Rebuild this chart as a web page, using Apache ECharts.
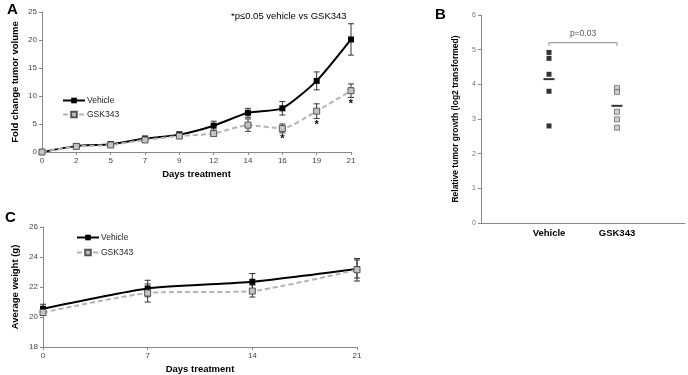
<!DOCTYPE html>
<html>
<head>
<meta charset="UTF-8">
<title></title>
<style>
  html, body { margin: 0; padding: 0; background: #fff; }
  #main { width: 688px; height: 375px; }
</style>
</head>
<body>
<div id="main"></div>
<script src="https://cdn.jsdelivr.net/npm/echarts@6/dist/echarts.min.js"></script>
<script>
// panel A - tumor volume
var daysA = ['0', '2', '5', '7', '9', '12', '14', '16', '19', '21'];
var vehicleA = [0, 1.05, 1.4, 2.4, 3.1, 4.7, 7.0, 7.8, 12.7, 20.1];
var vehicleAErr = [0, 0.2, 0.3, 0.4, 0.5, 0.8, 0.8, 1.2, 1.6, 2.8];
var gskA = [0, 1.0, 1.25, 2.15, 2.85, 3.3, 4.8, 4.2, 7.3, 10.95];
var gskAErr = [0, 0.2, 0.3, 0.3, 0.4, 0.5, 1.1, 0.8, 1.3, 1.2];
var sigDaysA = ['16', '19', '21'];

// panel B - relative growth
var groupsB = ['', 'Vehicle', 'GSK343', ''];
var vehicleB = [4.92, 4.75, 4.29, 3.80, 2.80];
var gskB = [3.89, 3.78, 3.21, 2.99, 2.75];
var meansB = [4.15, 3.38];
var bracketB = 5.2;
var pTextB = 'p=0.03';

// panel C - body weight
var daysC = ['0', '7', '14', '21'];
var vehicleC = [20.55, 21.9, 22.35, 23.2];
var vehicleCErr = [0.3, 0.55, 0.55, 0.6];
var gskC = [20.3, 21.6, 21.73, 23.15];
var gskCErr = [0.2, 0.6, 0.4, 0.75];

var FONT = 'Liberation Sans';
var AXIS_GREY = '#888';

function errData(vals, errs, cats, sig) {
  return vals.map(function (v, i) {
    var s = sig && sig.indexOf(cats[i]) >= 0 ? 1 : 0;
    return [i, v, errs[i], s];
  });
}

function errRender(params, api) {
  var x = api.value(0), v = api.value(1), e = api.value(2), s = api.value(3);
  var top = api.coord([x, v + e]);
  var bot = api.coord([x, v - e]);
  var hw = 3;
  var st = { stroke: '#333', lineWidth: 1 };
  var kids = [];
  if (e > 0) {
    kids.push({ type: 'line', shape: { x1: top[0], y1: top[1], x2: bot[0], y2: bot[1] }, style: st });
    kids.push({ type: 'line', shape: { x1: top[0] - hw, y1: top[1], x2: top[0] + hw, y2: top[1] }, style: st });
    kids.push({ type: 'line', shape: { x1: bot[0] - hw, y1: bot[1], x2: bot[0] + hw, y2: bot[1] }, style: st });
  }
  if (s) {
    kids.push({ type: 'text', style: { x: bot[0], y: bot[1] + 1, text: '*', fill: '#000',
      font: 'bold 11px ' + FONT, textAlign: 'center', textVerticalAlign: 'top' } });
  }
  return { type: 'group', children: kids };
}

function bracketRender(params, api) {
  var a = api.coord([api.value(0), api.value(2)]);
  var b = api.coord([api.value(1), api.value(2)]);
  var st = { stroke: '#888', lineWidth: 1 };
  return { type: 'group', children: [
    { type: 'line', shape: { x1: a[0], y1: a[1], x2: b[0], y2: b[1] }, style: st },
    { type: 'line', shape: { x1: a[0], y1: a[1], x2: a[0], y2: a[1] + 3 }, style: st },
    { type: 'line', shape: { x1: b[0], y1: b[1], x2: b[0], y2: b[1] + 3 }, style: st },
    { type: 'text', style: { x: (a[0] + b[0]) / 2, y: a[1] - 5, text: pTextB, fill: '#555',
      font: '8.5px ' + FONT, textAlign: 'center', textVerticalAlign: 'bottom' } }
  ] };
}

function valAxis(idx, min, max, step, name, gap, nameSize, labelSize, labelColor) {
  return {
    type: 'value', gridIndex: idx, min: min, max: max, interval: step,
    name: name, nameLocation: 'middle', nameGap: gap,
    nameTextStyle: { fontFamily: FONT, fontWeight: 'bold', fontSize: nameSize, color: '#000' },
    axisLine: { show: true, lineStyle: { color: AXIS_GREY, width: 1 } },
    axisTick: { show: true, length: 3, lineStyle: { color: AXIS_GREY } },
    axisLabel: { fontFamily: FONT, fontSize: labelSize, color: labelColor, margin: 5 },
    splitLine: { show: false }
  };
}

function catAxis(idx, cats, name, gap) {
  return {
    type: 'category', gridIndex: idx, data: cats, boundaryGap: false,
    name: name, nameLocation: 'middle', nameGap: gap,
    nameTextStyle: { fontFamily: FONT, fontWeight: 'bold', fontSize: 9.5, color: '#000' },
    axisLine: { lineStyle: { color: AXIS_GREY, width: 1 } },
    axisTick: { show: true, length: 3, alignWithLabel: true, lineStyle: { color: AXIS_GREY } },
    axisLabel: { fontFamily: FONT, fontSize: 8, color: '#444', margin: 5 },
    splitLine: { show: false }
  };
}

var vehStyle = {
  symbol: 'rect', symbolSize: 6, smooth: 0.2,
  itemStyle: { color: '#000' },
  lineStyle: { color: '#000', width: 2 }
};
var gskStyle = {
  symbol: 'rect', symbolSize: 6, smooth: 0.2,
  itemStyle: { color: '#c4c4c4', borderColor: '#555', borderWidth: 1 },
  lineStyle: { color: '#b4b4b4', width: 2, type: [5, 3] }
};

function lineSeries(name, idx, vals, style, z) {
  return Object.assign({
    name: name, type: 'line', xAxisIndex: idx, yAxisIndex: idx, data: vals,
    z: z, animation: false
  }, style);
}

var myChart = echarts.init(document.getElementById('main'));

myChart.setOption({
  animation: false,
  textStyle: { fontFamily: FONT },
  grid: [
    { left: 42, top: 12, width: 309, height: 140 },
    { left: 481, top: 15, right: 1, height: 208 },
    { left: 43, top: 227, width: 314, height: 120 }
  ],
  xAxis: [
    catAxis(0, daysA, 'Days treatment', 17),
    {
      type: 'category', gridIndex: 1, data: groupsB, boundaryGap: false,
      axisLine: { lineStyle: { color: AXIS_GREY, width: 1 } },
      axisTick: { show: false },
      axisLabel: { fontFamily: FONT, fontSize: 9.5, fontWeight: 'bold', color: '#000', margin: 5 },
      splitLine: { show: false }
    },
    catAxis(2, daysC, 'Days treatment', 17)
  ],
  yAxis: [
    valAxis(0, 0, 25, 5, 'Fold change tumor volume', 22, 9.5, 8, '#444'),
    valAxis(1, 0, 6, 1, 'Relative tumor growth (log2 transformed)', 21, 8.5, 7, '#777'),
    valAxis(2, 18, 26, 2, 'Average weight (g)', 23, 9.5, 8, '#444')
  ],
  legend: [
    {
      data: ['Vehicle', 'GSK343'], orient: 'vertical', left: 57, top: 91,
      itemWidth: 22, itemHeight: 7, itemGap: 5,
      textStyle: { fontFamily: FONT, fontSize: 8.5, color: '#222', padding: [0, 0, 0, -3] }
    },
    {
      data: ['Vehicle', 'GSK343'], orient: 'vertical', left: 71, top: 228,
      itemWidth: 22, itemHeight: 7, itemGap: 6,
      textStyle: { fontFamily: FONT, fontSize: 8.5, color: '#222', padding: [0, 0, 0, -3] }
    }
  ],
  graphic: [
    { type: 'text', left: 7, top: 2, style: { text: 'A', font: 'bold 15px ' + FONT, fill: '#000' } },
    { type: 'text', left: 435, top: 7, style: { text: 'B', font: 'bold 15px ' + FONT, fill: '#000' } },
    { type: 'text', left: 5, top: 210, style: { text: 'C', font: 'bold 15px ' + FONT, fill: '#000' } },
    { type: 'text', left: 231, top: 11, style: { text: '*p\u22640.05 vehicle vs GSK343', font: '9.5px ' + FONT, fill: '#000' } }
  ],
  series: [
    { type: 'custom', xAxisIndex: 0, yAxisIndex: 0, renderItem: errRender, z: 1,
      data: errData(vehicleA, vehicleAErr, daysA, null) },
    { type: 'custom', xAxisIndex: 0, yAxisIndex: 0, renderItem: errRender, z: 1,
      data: errData(gskA, gskAErr, daysA, sigDaysA) },
    lineSeries('Vehicle', 0, vehicleA, vehStyle, 2),
    lineSeries('GSK343', 0, gskA, gskStyle, 3),

    { type: 'scatter', xAxisIndex: 1, yAxisIndex: 1, symbol: 'rect', symbolSize: 5,
      itemStyle: { color: '#000' }, data: vehicleB.map(function (v) { return [1, v]; }) },
    { type: 'scatter', xAxisIndex: 1, yAxisIndex: 1, symbol: 'rect', symbolSize: 5,
      itemStyle: { color: '#c4c4c4', borderColor: '#666', borderWidth: 1 },
      data: gskB.map(function (v) { return [2, v]; }) },
    { type: 'scatter', xAxisIndex: 1, yAxisIndex: 1, symbol: 'rect', symbolSize: [11, 2],
      itemStyle: { color: '#000' }, z: 4, data: meansB.map(function (m, i) { return [i + 1, m]; }) },
    { type: 'custom', xAxisIndex: 1, yAxisIndex: 1, renderItem: bracketRender,
      data: [[1, 2, bracketB]] },

    { type: 'custom', xAxisIndex: 2, yAxisIndex: 2, renderItem: errRender, z: 1,
      data: errData(vehicleC, vehicleCErr, daysC, null) },
    { type: 'custom', xAxisIndex: 2, yAxisIndex: 2, renderItem: errRender, z: 1,
      data: errData(gskC, gskCErr, daysC, null) },
    lineSeries('Vehicle', 2, vehicleC, vehStyle, 2),
    lineSeries('GSK343', 2, gskC, gskStyle, 3)
  ]
});
</script>
</body>
</html>
